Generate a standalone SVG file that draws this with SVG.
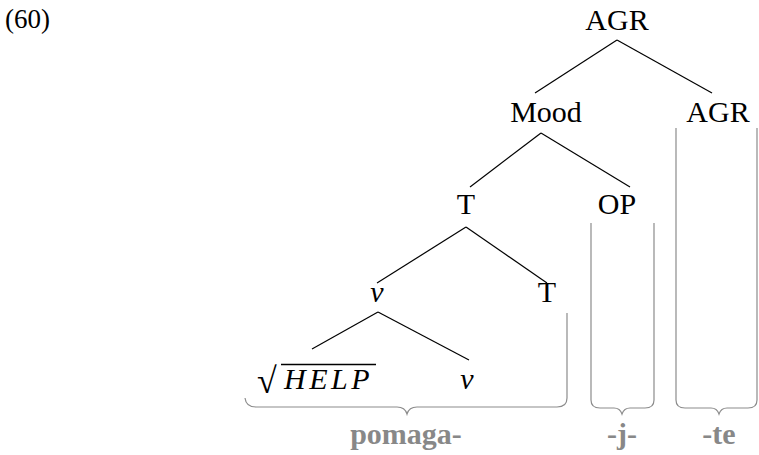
<svg xmlns="http://www.w3.org/2000/svg" width="759" height="455" viewBox="0 0 759 455">
  <style>
    .lbl { font-family: "Liberation Serif", "Times New Roman", serif; font-size: 30px; fill: #000; text-anchor: middle; }
    .it { font-style: italic; }
    .edge { stroke: #000; stroke-width: 1.2; fill: none; }
    .brace { stroke: #8c8c8c; stroke-width: 1.2; fill: none; }
    .morph { font-family: "Liberation Serif", "Times New Roman", serif; font-size: 30px; font-weight: bold; fill: #888; text-anchor: middle; }
  </style>
  <rect width="759" height="455" fill="#fff"/>
  <text class="lbl" x="5" y="28" style="text-anchor:start;font-size:27px">(60)</text>

  <g id="connectors">
    <line class="edge" x1="617" y1="40" x2="535" y2="93"/>
    <line class="edge" x1="617" y1="40" x2="712" y2="93"/>
    <line class="edge" x1="541" y1="133" x2="470" y2="187"/>
    <line class="edge" x1="541" y1="133" x2="630" y2="187"/>
    <line class="edge" x1="466" y1="227" x2="377" y2="283"/>
    <line class="edge" x1="466" y1="227" x2="547" y2="283"/>
    <line class="edge" x1="378" y1="312" x2="312" y2="349"/>
    <line class="edge" x1="378" y1="312" x2="469" y2="360"/>
  </g>

  <g id="node-agr-top"><text class="lbl" x="617" y="30">AGR</text></g>
  <g id="node-mood"><text class="lbl" x="546" y="122">Mood</text></g>
  <g id="node-agr"><text class="lbl" x="718" y="122">AGR</text></g>
  <g id="node-t"><text class="lbl" x="466" y="214">T</text></g>
  <g id="node-op"><text class="lbl" x="617" y="214">OP</text></g>
  <g id="node-v"><text class="lbl it" x="377" y="302">v</text></g>
  <g id="node-t2"><text class="lbl" x="547" y="302">T</text></g>
  <g id="node-help">
    <text class="lbl" x="257" y="393" style="text-anchor:start;font-size:36px">√</text>
    <line x1="281" y1="364.5" x2="376" y2="364.5" stroke="#000" stroke-width="1.3"/>
    <text class="lbl it" x="284" y="389" style="text-anchor:start" letter-spacing="3.5">HELP</text>
  </g>
  <g id="node-v2"><text class="lbl it" x="467" y="389">v</text></g>

  <g id="braces">
    <path class="brace" d="M245,398 Q246,407 256,407 L397,407 Q405,407 407,414 Q409,407 417,407 L557,407 Q567,407 567,398 L567,313"/>
    <path class="brace" d="M591,223 L591,400 Q591,408 600,408 L614,408 Q620,408 622,414 Q624,408 630,408 L645,408 Q654,408 654,400 L654,223"/>
    <path class="brace" d="M676,128 L676,400 Q676,408 685,408 L711,408 Q717,408 719,414 Q721,408 727,408 L748,408 Q757,408 757,400 L757,128"/>
  </g>

  <g id="morphs">
    <text class="morph" x="406" y="444">pomaga-</text>
    <text class="morph" x="622" y="444">-j-</text>
    <text class="morph" x="719" y="444">-te</text>
  </g>
</svg>
